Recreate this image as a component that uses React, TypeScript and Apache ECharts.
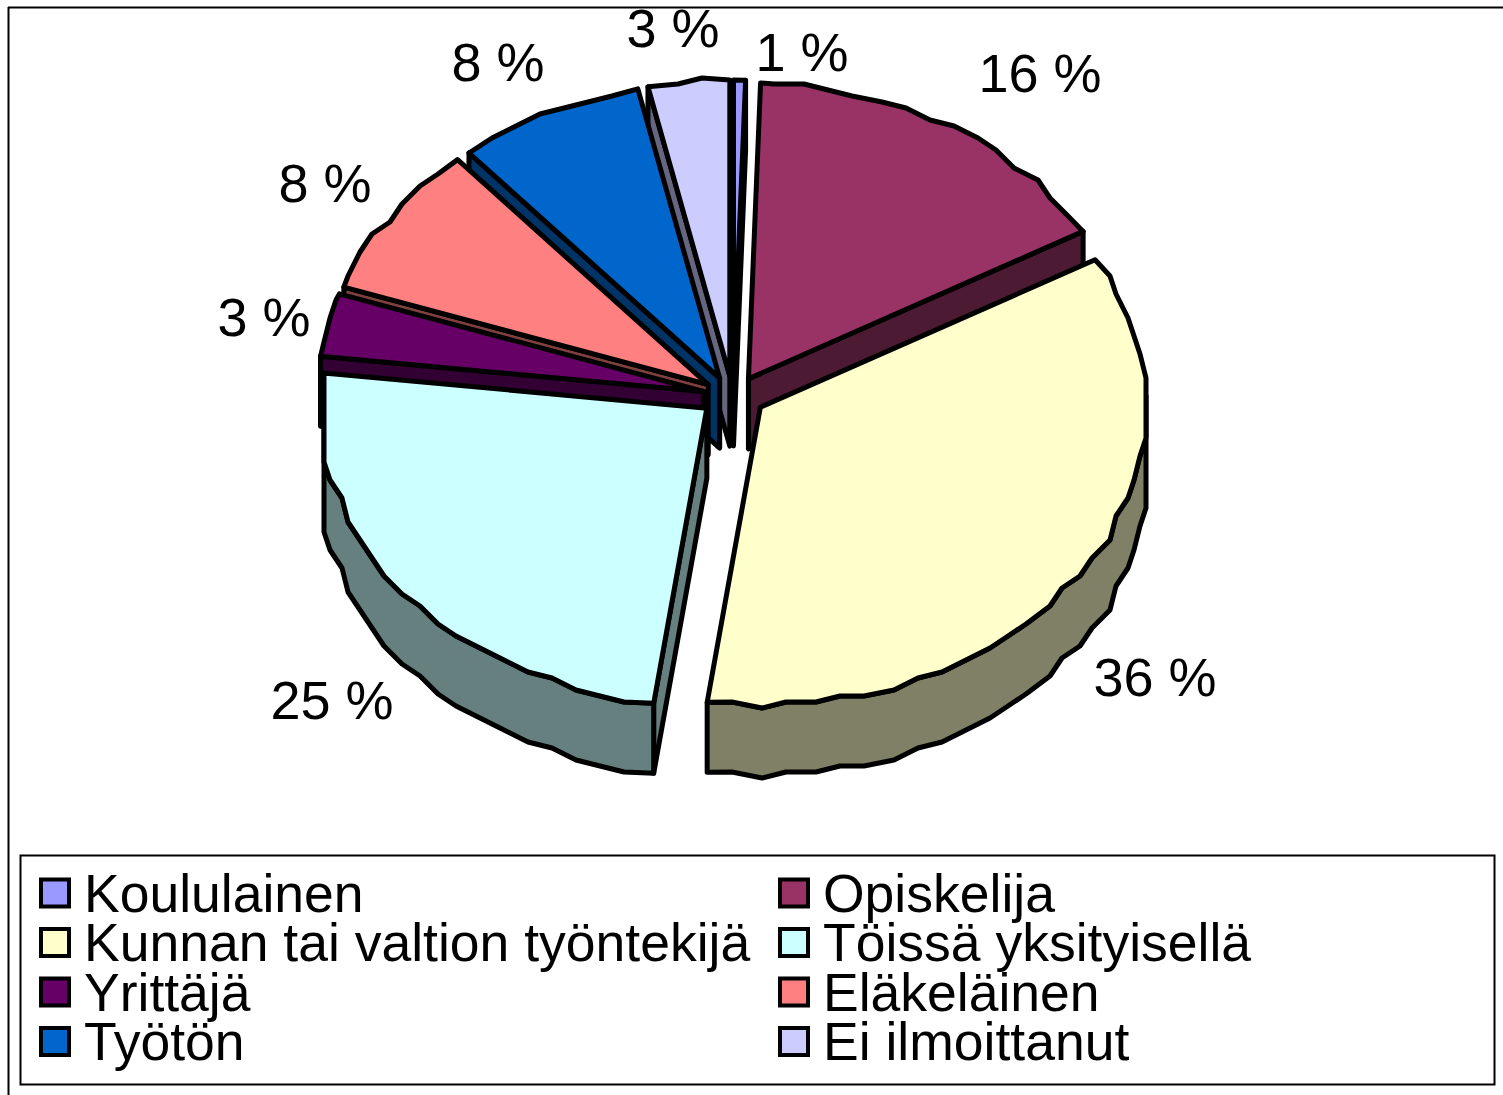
import React, { useEffect, useRef } from "react";
import * as echarts from "echarts";

const categories = ["Koululainen", "Opiskelija", "Kunnan tai valtion työntekijä", "Töissä yksityisellä", "Yrittäjä", "Eläkeläinen", "Työtön", "Ei ilmoittanut"];
const values = [0.5, 16.2, 35.5, 24.7, 3.45, 8.4, 7.85, 3.4];
const topColors = ["#9999FF", "#993366", "#FFFFCC", "#CCFFFF", "#660066", "#FF8080", "#0066CC", "#CCCCFF"];
const wallColors = ["#4D4D80", "#4D1A33", "#808066", "#668080", "#330033", "#804040", "#003366", "#666680"];
const leftLegend = [categories[0], categories[2], categories[4], categories[6]];
const rightLegend = [categories[1], categories[3], categories[5], categories[7]];
// painter's order, back to front
const drawOrder = [1, 0, 7, 6, 5, 4, 3, 2];
const labelAnchors = [[802, 52], [1040, 73], [1155, 677], [332, 700], [264, 317], [325, 183], [498, 62], [673, 28]];

const FONT = '"Liberation Sans", Arial, sans-serif';
const CX = 733, CY = 396, RX = 386, RY_BACK = 296, RY_FRONT = 298, DEPTH = 70;
const EX_BACK = 30, EX_FRONT = 33, EY_BACK = 20, EY_FRONT = 20, GRID = 6, STEP = 4;
const total = values.reduce((a, b) => a + b, 0);
const rad = (d: number) => (d * Math.PI) / 180;

function sliceGeometry(index: number, value: number) {
  const before = values.slice(0, index).reduce((a, b) => a + b, 0);
  const a0 = (before / total) * 360;
  const a1 = a0 + (value / total) * 360;
  const mid = rad((a0 + a1) / 2);
  const cosMid = Math.cos(mid);
  const ax = CX + (cosMid > 0 ? EX_BACK : EX_FRONT) * Math.sin(mid);
  const ay = CY - (cosMid > 0 ? EY_BACK : EY_FRONT) * cosMid;
  const pt = (deg: number) => {
    const c = Math.cos(rad(deg));
    return [ax + RX * Math.sin(rad(deg)), ay - (c > 0 ? RY_BACK : RY_FRONT) * c];
  };
  const rim: number[][] = [pt(a0)];
  const front: number[][] = a0 >= 88 && a0 <= 272 ? [pt(a0)] : [];
  const first = Math.ceil(a0 / STEP + 0.2) * STEP;
  for (let d = first; d < a1 - 0.5; d += STEP) {
    const p = pt(d);
    const q = [Math.round(p[0] / GRID) * GRID, Math.round(p[1] / GRID) * GRID];
    rim.push(q);
    if (d >= 88 && d <= 272) front.push(q);
  }
  rim.push(pt(a1));
  if (a1 >= 88 && a1 <= 272) front.push(pt(a1));
  return {
    apex: [ax, ay],
    rim,
    front,
    showStart: Math.sin(rad(a0)) < 0,
    showEnd: Math.sin(rad(a1)) > 0,
  };
}

const shift = (p: number[]) => [p[0], p[1] + DEPTH];

function makeOption() {
  const stroke = { stroke: "#000", lineWidth: 5, lineJoin: "round" };
  const series = categories.map((name, i) => ({
    type: "custom",
    name,
    coordinateSystem: "none",
    z: 2 + drawOrder.indexOf(i),
    silent: true,
    itemStyle: { color: topColors[i] },
    data: [[values[i]]],
    renderItem: (_: unknown, api: any) => {
      const { apex, rim, front, showStart, showEnd } = sliceGeometry(i, api.value(0));
      const wall = { ...stroke, fill: wallColors[i] };
      const start = rim[0], end = rim[rim.length - 1];
      const children: any[] = [];
      if (showStart) children.push({ type: "polygon", shape: { points: [apex, start, shift(start), shift(apex)] }, style: wall });
      if (showEnd) children.push({ type: "polygon", shape: { points: [apex, end, shift(end), shift(apex)] }, style: wall });
      if (front.length > 1) children.push({ type: "polygon", shape: { points: [...front, ...front.slice().reverse().map(shift)] }, style: wall });
      children.push({ type: "polygon", shape: { points: [apex, ...rim] }, style: { ...stroke, fill: topColors[i] } });
      children.push({
        type: "text",
        z2: 10,
        style: {
          text: `${Math.round(api.value(0))} %`,
          x: labelAnchors[i][0],
          y: labelAnchors[i][1],
          align: "center",
          verticalAlign: "middle",
          font: `54px ${FONT}`,
          fill: "#000",
        },
      });
      return { type: "group", children };
    },
  }));
  const legendBase = {
    orient: "vertical",
    top: 866,
    itemWidth: 28,
    itemHeight: 27,
    itemGap: -4.5,
    padding: 0,
    icon: "rect",
    selectedMode: false,
    itemStyle: { borderColor: "#000", borderWidth: 4 },
    textStyle: { fontFamily: FONT, fontSize: 53.5, color: "#000", padding: [0, 0, 0, 10] },
  };
  return {
    animation: false,
    backgroundColor: "#fff",
    legend: [
      { ...legendBase, left: 39, data: leftLegend },
      { ...legendBase, left: 778, data: rightLegend },
    ],
    graphic: [
      { type: "line", z: 0, shape: { x1: 8, y1: 7.5, x2: 1503, y2: 7.5 }, style: { stroke: "#000", lineWidth: 2 } },
      { type: "line", z: 0, shape: { x1: 8.5, y1: 7, x2: 8.5, y2: 1095 }, style: { stroke: "#000", lineWidth: 2 } },
      { type: "rect", z: 0, shape: { x: 20.5, y: 855.5, width: 1474, height: 229 }, style: { fill: "#fff", stroke: "#000", lineWidth: 2 } },
    ],
    series,
  };
}

export default function App() {
  const ref = useRef<HTMLDivElement>(null);
  useEffect(() => {
    if (!ref.current) return;
    const chart = echarts.init(ref.current, undefined, { renderer: "svg" });
    chart.setOption(makeOption() as any);
    return () => chart.dispose();
  }, []);
  return <div ref={ref} style={{ position: "absolute", left: 0, top: 0, width: 1503, height: 1095 }} />;
}
